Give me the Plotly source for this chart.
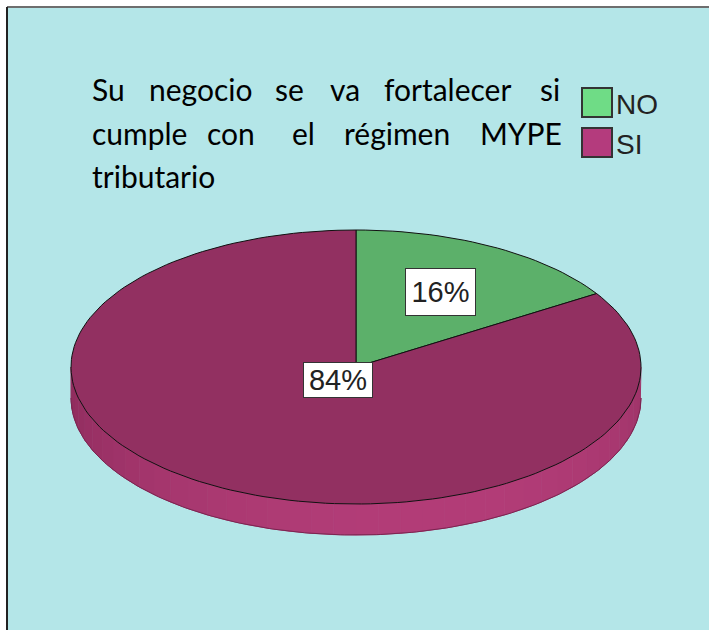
import numpy as np
import plotly.graph_objects as go

# ---- data ----
categories = ["NO", "SI"]
percent_values = [16, 84]
percent_labels = ["16%", "84%"]
title_lines = [
    ["Su", "negocio", "se", "va", "fortalecer", "si"],
    ["cumple", "con", "el", "régimen", "MYPE"],
    ["tributario"],
]

# ---- styles ----
top_colors = {"NO": "#5cb06a", "SI": "#923061"}
legend_colors = {"NO": "#6fdc86", "SI": "#b43b7d"}
side_dark = np.array([0x78, 0x22, 0x4c])
side_light = np.array([0xb3, 0x3d, 0x78])
BG = "#b4e6e8"

W, H = 709, 630
cx, cy, rx, ry, depth = 356, 367, 285, 137, 31

fig = go.Figure()

def ell(t):
    return cx + rx * np.sin(t), cy - ry * np.cos(t)

# side band (front half), shaded segments
nseg = 40
edges = np.linspace(np.pi / 2, 3 * np.pi / 2, nseg + 1)
for i in range(nseg):
    t = np.linspace(edges[i], edges[i + 1], 6)
    x, y = ell(t)
    xs = np.concatenate([x, x[::-1]])
    ys = np.concatenate([y, y[::-1] + depth])
    tm = 0.5 * (edges[i] + edges[i + 1])
    w = 0.5 + 0.5 * np.cos(tm - np.deg2rad(165))
    c = (side_dark + (side_light - side_dark) * w).astype(int)
    col = "rgb(%d,%d,%d)" % tuple(c)
    fig.add_trace(go.Scatter(x=xs, y=ys, mode="lines", fill="toself",
                             fillcolor=col, line=dict(color=col, width=1),
                             hoverinfo="skip", showlegend=False))
# bottom outline
tb = np.linspace(np.pi / 2, 3 * np.pi / 2, 200)
xb, yb = ell(tb)
fig.add_trace(go.Scatter(x=xb, y=yb + depth, mode="lines",
                         line=dict(color="#7a2450", width=1),
                         hoverinfo="skip", showlegend=False))

# top face slices
total = sum(percent_values)
start = 0.0
for cat, v in zip(categories, percent_values):
    span = 2 * np.pi * v / total
    t = np.linspace(start, start + span, max(int(200 * v / total), 20))
    x, y = ell(t)
    xs = np.concatenate([[cx], x, [cx]])
    ys = np.concatenate([[cy], y, [cy]])
    fig.add_trace(go.Scatter(x=xs, y=ys, mode="lines", fill="toself",
                             fillcolor=top_colors[cat],
                             line=dict(color="#111111", width=1),
                             hoverinfo="skip", showlegend=False))
    start += span

# percentage labels
label_pos = [(440, 292, 69, 46), (338, 380, 68, 34)]
for lab, (lx, ly, bw, bh) in zip(percent_labels, label_pos):
    fig.add_annotation(x=lx, y=ly, xref="x", yref="y", text=lab,
                       showarrow=False, xanchor="center", yanchor="middle",
                       width=bw, height=bh, bgcolor="white",
                       bordercolor="#333333", borderwidth=1, borderpad=0,
                       font=dict(family="Liberation Sans, Arial", size=29,
                                 color="#222222"))

# title (justified words)
word_x = [
    [90, 147, 273, 328, 382, 538],
    [90, 205, 290, 342, 478],
    [90],
]
line_y = [89, 133, 176]
for words, xs_, ly in zip(title_lines, word_x, line_y):
    for wd, wx in zip(words, xs_):
        fig.add_annotation(x=wx, y=ly, xref="x", yref="y", text=wd,
                           showarrow=False, xanchor="left", yanchor="middle",
                           font=dict(family="Lato, Open Sans", size=30,
                                     color="#000000"))

# legend
leg_y = [88, 128]
for cat, y0 in zip(categories, leg_y):
    fig.add_shape(type="rect", x0=582, x1=612, y0=y0, y1=y0 + 29,
                  xref="x", yref="y", fillcolor=legend_colors[cat],
                  line=dict(color="#333333", width=2))
    fig.add_annotation(x=614, y=y0 + 16, xref="x", yref="y", text=cat,
                       showarrow=False, xanchor="left", yanchor="middle",
                       font=dict(family="Liberation Sans, Arial", size=28,
                                 color="#222222"))

# border lines (panel background is the plot background)
fig.add_shape(type="rect", x0=0, y0=0, x1=7, y1=H, xref="x", yref="y",
              fillcolor="white", line=dict(width=0), layer="below")
fig.add_shape(type="rect", x0=7, y0=0, x1=W, y1=7, xref="x", yref="y",
              fillcolor="white", line=dict(width=0), layer="below")
fig.add_shape(type="line", x0=7, x1=W, y0=7, y1=7, xref="x", yref="y",
              line=dict(color="#6e6e6e", width=2))
fig.add_shape(type="line", x0=7, x1=7, y0=7, y1=H, xref="x", yref="y",
              line=dict(color="#222222", width=2))

fig.update_layout(
    width=W, height=H, autosize=False,
    margin=dict(l=0, r=0, t=0, b=0),
    paper_bgcolor=BG, plot_bgcolor=BG,
    xaxis=dict(range=[0, W], visible=False, fixedrange=True),
    yaxis=dict(range=[H, 0], visible=False, fixedrange=True),
    showlegend=False,
)
fig.write_html("out.html", config={"displayModeBar": False},
               post_script="document.documentElement.style.margin='0';"
                           "document.documentElement.style.overflow='hidden';"
                           "document.body.style.margin='0';"
                           "document.body.style.overflow='hidden';"
                           "document.body.style.background='%s';" % BG)
